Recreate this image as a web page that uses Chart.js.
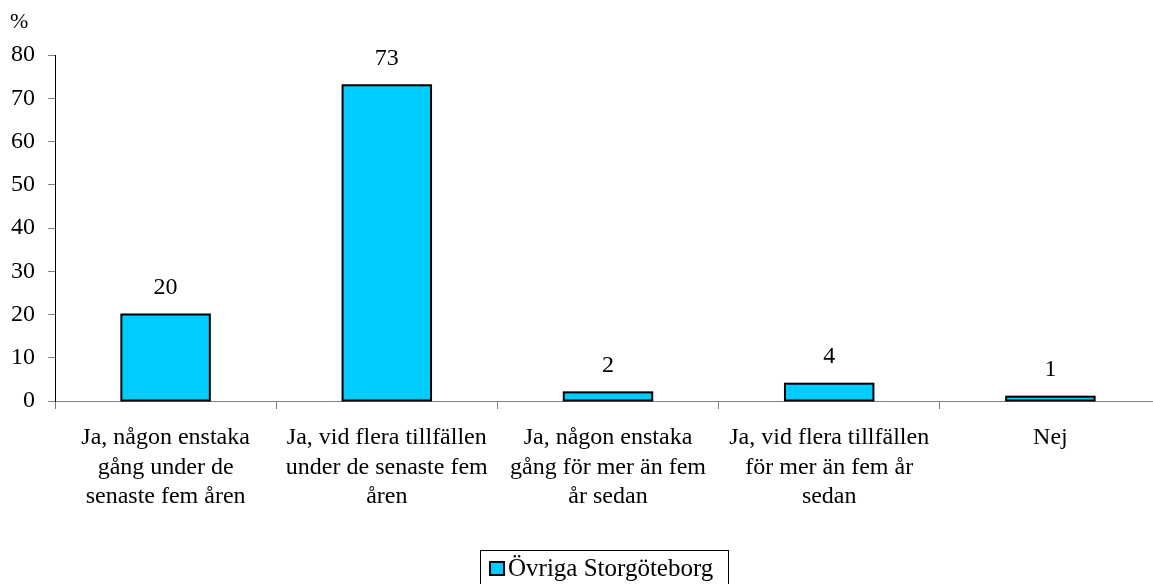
<!DOCTYPE html>
<html>
<head>
<meta charset="utf-8">
<script src="https://cdn.jsdelivr.net/npm/chart.js@4"></script>
<style>
  html, body { margin: 0; padding: 0; background: #fff; overflow: hidden; }
  #wrap { width: 1161px; height: 584px; }
</style>
</head>
<body>
<div id="wrap"><canvas id="chart" width="1161" height="584"></canvas></div>
<script>
const categories = [
  ["Ja, någon enstaka", "gång under de", "senaste fem åren"],
  ["Ja, vid flera tillfällen", "under de senaste fem", "åren"],
  ["Ja, någon enstaka", "gång för mer än fem", "år sedan"],
  ["Ja, vid flera tillfällen", "för mer än fem år", "sedan"],
  ["Nej"],
];
const seriesLabel = "Övriga Storgöteborg";
const seriesValues = [20, 73, 2, 4, 1];
const yTicks = [0, 10, 20, 30, 40, 50, 60, 70, 80];

const FONT = "'Liberation Serif', 'Times New Roman', serif";
const BAR_COLOR = "#00CCFF";

// outlines centred on the bar edges, value labels, the "%" unit and a boxed legend
const extras = {
  id: "extras",
  afterDatasetsDraw(chart) {
    const ctx = chart.ctx;
    ctx.save();
    const bars = chart.getDatasetMeta(0).data;
    ctx.strokeStyle = "#000";
    ctx.lineWidth = 2;
    bars.forEach((bar) => {
      const { x, y, base, width } = bar.getProps(["x", "y", "base", "width"], true);
      ctx.strokeRect(x - width / 2, y, width, base - y);
    });

    ctx.font = `24px ${FONT}`;
    ctx.fillStyle = "#000";
    ctx.textAlign = "center";
    ctx.textBaseline = "middle";
    bars.forEach((bar, i) => {
      ctx.fillText(String(seriesValues[i]), bar.x, bar.y - 27);
    });

    ctx.font = `22px ${FONT}`;
    ctx.textAlign = "left";
    ctx.fillText("%", 10, 22);

    // legend
    ctx.lineWidth = 1;
    ctx.strokeRect(480.5, 550.5, 248, 40);
    ctx.fillStyle = BAR_COLOR;
    ctx.fillRect(490, 562, 14, 13);
    ctx.lineWidth = 2;
    ctx.strokeRect(490, 562, 14, 13);
    ctx.fillStyle = "#000";
    ctx.font = `25px ${FONT}`;
    ctx.textBaseline = "alphabetic";
    ctx.fillText(seriesLabel, 508, 576);
    ctx.restore();
  },
};

new Chart(document.getElementById("chart"), {
  type: "bar",
  data: {
    labels: categories,
    datasets: [{
      label: seriesLabel,
      data: seriesValues,
      backgroundColor: BAR_COLOR,
      borderWidth: 0,
      barPercentage: 0.4,
      categoryPercentage: 1,
    }],
  },
  options: {
    responsive: false,
    animation: false,
    layout: { padding: { top: 55, left: 0, right: 0, bottom: 0 } },
    plugins: {
      legend: { display: false },
      tooltip: { enabled: false },
    },
    scales: {
      x: {
        grid: {
          offset: true,
          drawOnChartArea: false,
          tickLength: 8,
          color: "#808080",
        },
        border: { color: "#808080", width: 1 },
        ticks: {
          color: "#000",
          font: { family: FONT, size: 24, lineHeight: 1.23 },
          maxRotation: 0,
          autoSkip: false,
          padding: 14,
        },
        afterFit: (scale) => { scale.height = 183; },
      },
      y: {
        min: 0,
        max: 80,
        grid: {
          drawOnChartArea: false,
          tickLength: 7,
          color: "#808080",
        },
        border: { color: "#000", width: 1 },
        afterBuildTicks: (scale) => {
          scale.ticks = yTicks.map((v) => ({ value: v }));
        },
        ticks: {
          color: "#000",
          font: { family: FONT, size: 24 },
          padding: 13,
        },
        afterFit: (scale) => { scale.width = 55; },
      },
    },
  },
  plugins: [extras],
});
</script>
</body>
</html>
